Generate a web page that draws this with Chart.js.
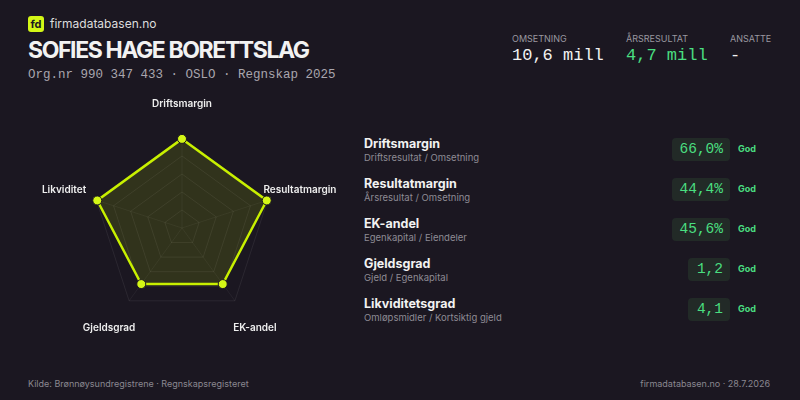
<!DOCTYPE html>
<html><head><meta charset="utf-8">
<script src="https://cdn.jsdelivr.net/npm/chart.js@4"></script>
<style>
body{margin:0;width:800px;height:400px;background:#1b1721;font-family:Inter,sans-serif;color:#f2f2f2;position:relative;overflow:hidden}
.abs{position:absolute}
.mono{font-family:"Liberation Mono",monospace}
.logo{left:28px;top:16px;width:16px;height:16px;background:#d4f716;border-radius:3px;color:#1b1721;font-size:11px;font-weight:700;text-align:center;line-height:16px}
.brand{left:50px;top:16px;font-size:12px;color:#ddd}
.title{left:28px;top:36px;font-size:23px;font-weight:700;letter-spacing:-1.4px}
.sub{left:28px;top:68px;font-size:12.5px;color:#a9a6ae}
.kl{font-size:9px;color:#9a97a0;top:33px}
.kv{font-size:17px;top:46px}
.row{left:364px;width:400px;height:40px}
.rn{font-size:12.5px;font-weight:700}
.rs{font-size:9.5px;color:#8e8b94;margin-top:1px}
.val{position:absolute;right:34px;top:2px;background:#222a27;color:#4ade80;border-radius:4px;padding:2px 7px;font-size:14.5px;line-height:19px;min-width:28px;text-align:right}
.god{position:absolute;left:374px;top:7px;font-size:9px;font-weight:700;color:#4ade80}
.foot{top:378px;font-size:9px;color:#8a8790}
</style></head><body>
<div class="abs logo">fd</div>
<div class="abs brand">firmadatabasen.no</div>
<div class="abs title">SOFIES HAGE BORETTSLAG</div>
<div class="abs sub mono">Org.nr 990 347 433 · OSLO · Regnskap 2025</div>
<div class="abs kl" style="left:512px">OMSETNING</div>
<div class="abs kl" style="left:626px">ÅRSRESULTAT</div>
<div class="abs kl" style="left:730px">ANSATTE</div>
<div class="abs kv mono" style="left:512px">10,6 mill</div>
<div class="abs kv mono" style="left:626px;color:#4ade80">4,7 mill</div>
<div class="abs kv mono" style="left:730px">-</div>
<div class="abs" style="left:22px;top:93px;width:320px;height:270px"><canvas id="radar"></canvas></div>
<div id="rows"></div>
<div class="abs foot" style="left:28px">Kilde: Brønnøysundregistrene · Regnskapsregisteret</div>
<div class="abs foot" style="right:30px">firmadatabasen.no · 28.7.2026</div>
<script>
const axisLabels = ["Driftsmargin", "Resultatmargin", "EK-andel", "Gjeldsgrad", "Likviditet"];
const scores = [99, 99, 77, 77, 99];
const rowNames = ["Driftsmargin", "Resultatmargin", "EK-andel", "Gjeldsgrad", "Likviditetsgrad"];
const rowFormulas = ["Driftsresultat / Omsetning", "Årsresultat / Omsetning", "Egenkapital / Eiendeler", "Gjeld / Egenkapital", "Omløpsmidler / Kortsiktig gjeld"];
const rowValues = ["66,0%", "44,4%", "45,6%", "1,2", "4,1"];
const rowRatings = ["God", "God", "God", "God", "God"];

const rows = document.getElementById("rows");
rowNames.forEach((n, i) => {
  rows.innerHTML += `<div class="abs row" style="top:${136 + i * 40}px">
    <div class="rn">${n}</div><div class="rs">${rowFormulas[i]}</div>
    <div class="val mono">${rowValues[i]}</div><div class="god">${rowRatings[i]}</div></div>`;
});

// labels drawn a fixed distance outside the outer ring
const farLabels = {
  id: "farLabels",
  afterDraw(chart) {
    const r = chart.scales.r, ctx = chart.ctx;
    ctx.save();
    ctx.font = "600 10px Inter";
    ctx.fillStyle = "#eeeeee";
    ctx.textAlign = "center";
    ctx.textBaseline = "middle";
    axisLabels.forEach((l, i) => {
      const p = r.getPointPosition(i, r.drawingArea + 34);
      ctx.fillText(l, p.x, p.y);
    });
    ctx.restore();
  }
};

new Chart(document.getElementById("radar"), {
  type: "radar",
  data: {
    labels: axisLabels,
    datasets: [{
      data: scores,
      borderColor: "#c8f000",
      backgroundColor: "rgba(200,240,0,0.13)",
      borderWidth: 2.5,
      pointBackgroundColor: "#d4f716",
      pointBorderColor: "#1b1721",
      pointBorderWidth: 1,
      pointRadius: 4.5
    }]
  },
  plugins: [farLabels],
  options: {
    responsive: true,
    maintainAspectRatio: false,
    animation: false,
    plugins: { legend: { display: false }, tooltip: { enabled: false } },
    layout: { padding: 45 },
    scales: {
      r: {
        min: 0, max: 100,
        ticks: { display: false, stepSize: 20 },
        grid: { color: "rgba(255,255,255,0.07)" },
        angleLines: { color: "rgba(255,255,255,0.05)" },
        pointLabels: { display: false }
      }
    }
  }
});
</script>
</body></html>
